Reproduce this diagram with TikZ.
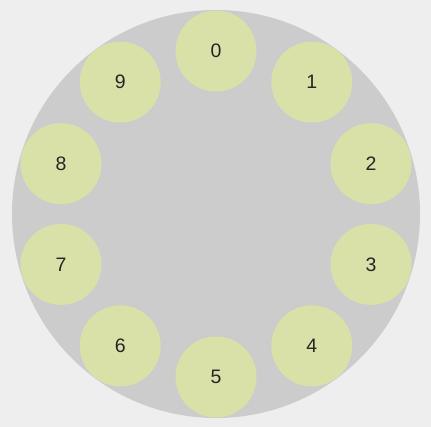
\documentclass[tikz,border=0pt]{standalone}
\usepackage{fontspec}
\setmainfont{Liberation Sans}
\definecolor{bgc}{HTML}{EEEEEE}
\definecolor{ringc}{HTML}{CCCCCC}
\definecolor{ballc}{HTML}{D9E1A9}
\definecolor{txtc}{HTML}{262626}
\begin{document}
\begin{tikzpicture}[x=1pt,y=-1pt,
  ball/.style={circle,fill=ballc,minimum size=81pt,inner sep=0pt,text=txtc,font=\fontsize{19.5}{22}\selectfont}]
\fill[bgc] (0,0) rectangle (431,427);
\useasboundingbox (0,0) rectangle (431,427);
\node[circle,fill=ringc,minimum size=408pt,inner sep=0pt] (ring) at (216,214) {};
\foreach \i in {0,...,9}{
  \node[ball] (b\i) at ({216+163*sin(36*\i)},{214-163*cos(36*\i)}) {\i};
}
\end{tikzpicture}
\end{document}
